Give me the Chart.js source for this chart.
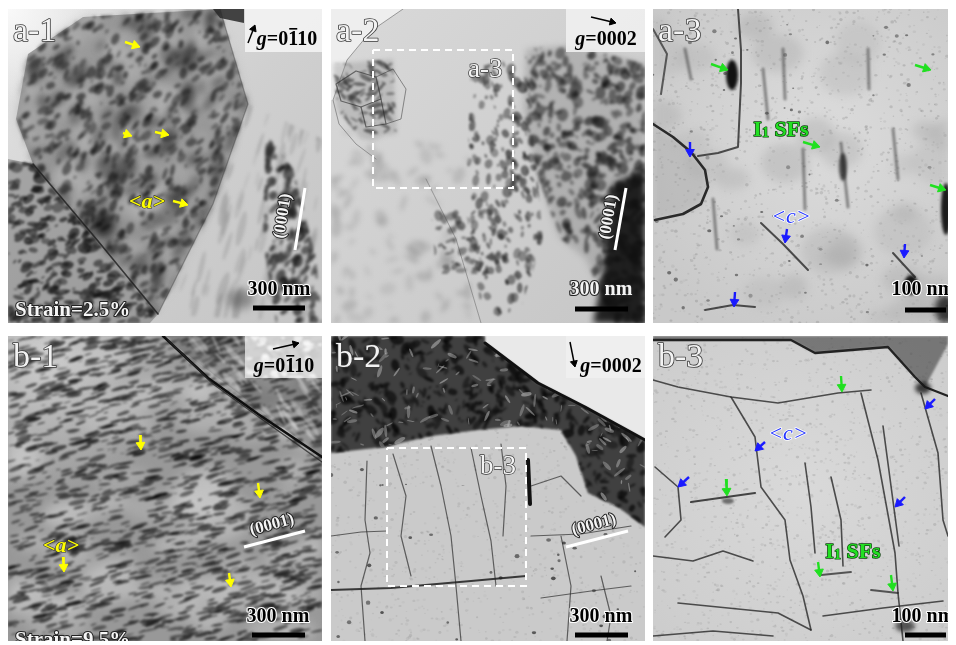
<!DOCTYPE html>
<html>
<head>
<meta charset="utf-8">
<script src="https://cdn.jsdelivr.net/npm/chart.js@4.4.0/dist/chart.umd.min.js"></script>
<style>
html, body { margin: 0; padding: 0; background: #fff; }
body { width: 956px; height: 645px; position: relative; overflow: hidden; }
.panel { position: absolute; }
</style>
</head>
<body>
<div class="panel" style="left:8px;top:9px;width:314px;height:314px"><canvas id="c0"></canvas></div>
<div class="panel" style="left:331px;top:9px;width:314px;height:314px"><canvas id="c1"></canvas></div>
<div class="panel" style="left:653px;top:9px;width:295px;height:314px"><canvas id="c2"></canvas></div>
<div class="panel" style="left:8px;top:336px;width:314px;height:305px"><canvas id="c3"></canvas></div>
<div class="panel" style="left:331px;top:336px;width:314px;height:305px"><canvas id="c4"></canvas></div>
<div class="panel" style="left:653px;top:336px;width:295px;height:305px"><canvas id="c5"></canvas></div>
<script>
// panel order: a-1, a-2, a-3, b-1, b-2, b-3 (local pixel units, y down)
const panelIds = ['a-1', 'a-2', 'a-3', 'b-1', 'b-2', 'b-3'];
const W = [314, 314, 295, 314, 314, 295];
const H = [314, 314, 314, 305, 305, 305];

const gDigits = ['0110', '0002', null, '0110', '0002', null];
const gBar = [1, -1, null, 1, -1, null];
const gArrows = [[240, 34, 247, 16], [260, 8, 285, 14], null, [265, 13, 291, 7], [239, 6, 244, 31], null];
const gTextPos = [[279, 29], [275, 29], null, [276, 29], [280, 29], null];

const scaleText = ['300 nm', '300 nm', '100 nm', '300 nm', '300 nm', '100 nm'];
const scaleTextPos = [[271, 286], [270, 286], [270, 286], [270, 286], [270, 286], [270, 286]];
const scaleBars = [[245, 297, 299], [244, 297, 300], [252, 293, 301], [244, 297, 299], [244, 297, 299], [252, 293, 299]];

const strainText = ['Strain=2.5%', null, null, 'Strain=9.5%', null, null];
const strainPos = [[7, 307], null, null, [7, 310], null, null];

const planeLines = [[287, 241, 297, 179], [284, 241, 295, 179], null, [236, 211, 297, 195], [235, 211, 297, 195], null];
const planeLabel = [[275, 207, -81], [278, 208, -80], null, [264, 189, -15], [263, 189, -15], null];

const dashBoxes = [null, [42, 41, 182, 179], null, null, [56, 112, 195, 250], null];
const dashLabel = [null, ['a-3', 137, 68], null, null, ['b-3', 149, 138], null];

const a1Yellow = [[117, 33, 132, 38], [115, 124, 124, 127], [147, 123, 161, 126], [165, 192, 180, 196]];
const b1Yellow = [[132, 99, 133, 114], [250, 147, 252, 162], [221, 237, 223, 251], [55, 221, 56, 236]];
const a3Green = [[58, 55, 75, 61], [262, 56, 278, 61], [150, 133, 167, 138], [277, 176, 293, 181]];
const a3Blue = [[37, 133, 37, 148], [134, 220, 132, 234], [252, 235, 251, 249], [82, 283, 81, 298]];
const b3Green = [[188, 40, 189, 56], [73, 143, 74, 160], [165, 226, 167, 241], [238, 239, 240, 255]];
const b3Blue = [[112, 106, 102, 115], [36, 141, 25, 151], [282, 63, 272, 73], [252, 161, 242, 171]];

const tagA = [[139, 192], null, null, [53, 209], null, null];
const tagC = [null, null, [138, 207], null, null, [135, 97]];
const tagSF = [null, null, [128, 119], null, null, [200, 214]];

const SERIF = '"Liberation Serif", "DejaVu Serif", serif';

// ---------- drawing helpers ----------
function makeRand(seed) {
  let s = seed;
  return () => { s = (s * 16807) % 2147483647; return (s - 1) / 2147483646; };
}
function poly(ctx, pts) {
  ctx.beginPath();
  pts.forEach((p, i) => i ? ctx.lineTo(p[0], p[1]) : ctx.moveTo(p[0], p[1]));
  ctx.closePath();
}
function fillPoly(ctx, pts, color, blur) {
  ctx.save();
  if (blur) ctx.filter = 'blur(' + blur + 'px)';
  poly(ctx, pts); ctx.fillStyle = color; ctx.fill();
  ctx.restore();
}
function line(ctx, pts, color, w, blur) {
  ctx.save();
  if (blur) ctx.filter = 'blur(' + blur + 'px)';
  ctx.beginPath();
  pts.forEach((p, i) => i ? ctx.lineTo(p[0], p[1]) : ctx.moveTo(p[0], p[1]));
  ctx.strokeStyle = color; ctx.lineWidth = w; ctx.lineJoin = 'round'; ctx.lineCap = 'round';
  ctx.stroke();
  ctx.restore();
}
function blob(ctx, x, y, rx, ry, color, blur) {
  ctx.save();
  if (blur) ctx.filter = 'blur(' + blur + 'px)';
  ctx.beginPath(); ctx.ellipse(x, y, rx, ry, 0, 0, Math.PI * 2);
  ctx.fillStyle = color; ctx.fill();
  ctx.restore();
}
function radial(ctx, x, y, r, c0, c1, w, h) {
  const g = ctx.createRadialGradient(x, y, 0, x, y, r);
  g.addColorStop(0, c0); g.addColorStop(1, c1);
  ctx.fillStyle = g; ctx.fillRect(0, 0, w, h);
}
function linear(ctx, w, h, stops) {
  const g = ctx.createLinearGradient(0, 0, w, h);
  stops.forEach(s => g.addColorStop(s[0], s[1]));
  ctx.fillStyle = g; ctx.fillRect(0, 0, w, h);
}
// texture of little ellipses, rendered off-screen then blurred once
function speckle(ctx, pts, n, o) {
  const r = makeRand(o.seed || 7);
  const xs = pts.map(p => p[0]), ys = pts.map(p => p[1]);
  const x0 = Math.min(...xs), x1 = Math.max(...xs), y0 = Math.min(...ys), y1 = Math.max(...ys);
  const off = document.createElement('canvas');
  off.width = 320; off.height = 320;
  const oc = off.getContext('2d');
  poly(oc, pts); oc.clip();
  for (let k = 0; k < n; k++) {
    const x = x0 + r() * (x1 - x0), y = y0 + r() * (y1 - y0);
    const rx = o.rx[0] + r() * (o.rx[1] - o.rx[0]);
    const ry = Math.max(0.4, rx * (o.ratio[0] + r() * (o.ratio[1] - o.ratio[0])));
    const ang = ((o.ang || 0) + (r() - 0.5) * (o.jit || 0)) * Math.PI / 180;
    const g = Math.round(o.gray[0] + r() * (o.gray[1] - o.gray[0]));
    oc.fillStyle = 'rgba(' + g + ',' + g + ',' + g + ',' + o.alpha + ')';
    oc.beginPath(); oc.ellipse(x, y, rx, ry, ang, 0, Math.PI * 2); oc.fill();
  }
  ctx.save();
  if (o.blur) ctx.filter = 'blur(' + o.blur + 'px)';
  ctx.drawImage(off, 0, 0);
  ctx.restore();
}
function full(w, h) { return [[0, 0], [w, 0], [w, h], [0, h]]; }

// ---------- backgrounds (micrograph look) ----------
const painters = [
  function a1(ctx) {
    const w = 314, h = 314;
    linear(ctx, w, h, [[0, '#e4e4e4'], [0.5, '#d0d0d0'], [1, '#c4c4c4']]);
    radial(ctx, 0, 0, 95, 'rgba(250,250,250,0.95)', 'rgba(250,250,250,0)', w, h);
    const grain = [[20, 45], [75, 8], [212, 0], [240, 95], [205, 195], [150, 305], [25, 155], [8, 110]];
    fillPoly(ctx, grain, 'rgba(100,100,100,0.58)');
    speckle(ctx, grain, 260, { rx: [8, 20], ratio: [0.4, 0.9], ang: 0, jit: 180, gray: [150, 200], alpha: 0.35, blur: 4, seed: 10 });
    speckle(ctx, grain, 160, { rx: [6, 14], ratio: [0.3, 0.8], ang: -50, jit: 80, gray: [20, 60], alpha: 0.4, blur: 3, seed: 15 });
    speckle(ctx, grain, 900, { rx: [1.5, 7], ratio: [0.25, 0.7], ang: -50, jit: 60, gray: [5, 60], alpha: 0.55, blur: 1.4, seed: 11 });
    const low = [[0, 150], [25, 155], [150, 305], [142, 314], [0, 314]];
    fillPoly(ctx, low, 'rgba(100,100,100,0.45)');
    speckle(ctx, low, 500, { rx: [1.5, 7], ratio: [0.25, 0.8], ang: -20, jit: 70, gray: [5, 60], alpha: 0.6, blur: 1.3, seed: 12 });
    const right = [[150, 305], [240, 95], [314, 130], [314, 314]];
    speckle(ctx, right, 140, { rx: [6, 18], ratio: [0.1, 0.25], ang: -75, jit: 12, gray: [120, 165], alpha: 0.3, blur: 1.5, seed: 14 });
    const strip = [[258, 125], [285, 160], [308, 250], [314, 314], [268, 314], [255, 230]];
    speckle(ctx, strip, 200, { rx: [1.5, 7], ratio: [0.3, 0.9], ang: -60, jit: 50, gray: [5, 60], alpha: 0.65, blur: 1.4, seed: 13 });
    blob(ctx, 232, 290, 14, 10, 'rgba(70,70,70,0.5)', 4);
    blob(ctx, 95, 215, 12, 14, 'rgba(10,10,10,0.75)', 4);
    line(ctx, [[25, 155], [90, 232], [150, 305]], 'rgba(30,30,30,0.8)', 1.6);
    line(ctx, [[212, 0], [240, 95], [205, 195], [150, 305]], 'rgba(50,50,50,0.35)', 1.2);
    fillPoly(ctx, [[205, 0], [236, 0], [236, 14], [212, 9]], 'rgba(40,40,40,0.85)');
    ctx.fillStyle = 'rgba(244,244,244,0.88)'; ctx.fillRect(237, 0, 77, 43);
  },
  function a2(ctx) {
    const w = 314, h = 314;
    linear(ctx, w, h, [[0, '#d9d9d9'], [1, '#c6c6c6']]);
    fillPoly(ctx, [[0, 0], [72, 0], [40, 22], [16, 51], [2, 91], [0, 91]], '#eeeeee');
    line(ctx, [[72, 0], [40, 22], [16, 51], [2, 91], [8, 115], [25, 135], [45, 150]], 'rgba(60,60,60,0.45)', 1);
    const net = [[2, 55], [62, 50], [66, 125], [30, 130], [6, 100]];
    fillPoly(ctx, net, 'rgba(150,150,150,0.4)', 2);
    speckle(ctx, net, 90, { rx: [2, 8], ratio: [0.15, 0.4], ang: 10, jit: 120, gray: [30, 90], alpha: 0.6, blur: 0.8, seed: 21 });
    line(ctx, [[5, 75], [25, 62], [45, 68], [50, 90], [30, 98], [10, 92], [5, 75]], 'rgba(40,40,40,0.6)', 1.2, 0.4);
    line(ctx, [[30, 98], [35, 118], [55, 115], [50, 90]], 'rgba(40,40,40,0.6)', 1.2, 0.4);
    line(ctx, [[45, 68], [62, 60], [75, 80], [70, 110], [55, 115]], 'rgba(50,50,50,0.5)', 1, 0.4);
    const dark = [[195, 40], [240, 36], [314, 55], [314, 314], [282, 314], [255, 250], [228, 228], [205, 160], [192, 100]];
    fillPoly(ctx, dark, 'rgba(110,110,110,0.3)', 3);
    speckle(ctx, dark, 650, { rx: [1.5, 7], ratio: [0.3, 0.9], ang: 0, jit: 180, gray: [5, 70], alpha: 0.55, blur: 1.4, seed: 22 });
    const mid = [[140, 60], [195, 45], [212, 230], [185, 314], [150, 300], [135, 200]];
    speckle(ctx, mid, 260, { rx: [1.5, 6], ratio: [0.3, 0.9], ang: 80, jit: 60, gray: [15, 90], alpha: 0.55, blur: 1.3, seed: 23 });
    speckle(ctx, [[100, 200], [165, 200], [170, 265], [105, 265]], 70, { rx: [1.5, 6], ratio: [0.3, 0.8], ang: 0, jit: 180, gray: [30, 90], alpha: 0.55, blur: 1.2, seed: 24 });
    speckle(ctx, [[0, 120], [140, 140], [140, 314], [0, 314]], 90, { rx: [3, 10], ratio: [0.3, 0.8], ang: 0, jit: 180, gray: [120, 160], alpha: 0.3, blur: 2.5, seed: 25 });
    const vdark = [[282, 175], [314, 160], [314, 314], [262, 314], [272, 265]];
    fillPoly(ctx, vdark, 'rgba(15,15,15,0.9)', 3);
    line(ctx, [[95, 170], [125, 230], [150, 314]], 'rgba(70,70,70,0.4)', 1);
    ctx.fillStyle = 'rgba(240,240,240,0.88)'; ctx.fillRect(235, 0, 79, 43);
  },
  function a3(ctx) {
    const w = 295, h = 314;
    ctx.fillStyle = '#c9c9c9'; ctx.fillRect(0, 0, w, h);
    radial(ctx, 170, 130, 210, 'rgba(222,222,222,0.9)', 'rgba(222,222,222,0)', w, h);
    speckle(ctx, full(w, h), 1400, { rx: [0.6, 1.8], ratio: [0.6, 1], gray: [130, 185], alpha: 0.35, blur: 0.5, seed: 31 });
    speckle(ctx, full(w, h), 60, { rx: [1, 2.2], ratio: [0.6, 1], gray: [40, 90], alpha: 0.6, blur: 0.6, seed: 32 });
    speckle(ctx, full(w, h), 30, { rx: [12, 30], ratio: [0.5, 1], gray: [165, 185], alpha: 0.4, blur: 5, seed: 33 });
    fillPoly(ctx, [[0, 120], [20, 128], [38, 143], [52, 161], [55, 178], [48, 195], [30, 205], [0, 211]], 'rgba(150,150,150,0.3)', 3);
    line(ctx, [[0, 115], [20, 128], [38, 143], [52, 161], [55, 178], [48, 195], [30, 205], [2, 211]], '#2a2a2a', 2.6, 0.7);
    line(ctx, [[85, 0], [88, 41], [88, 74], [85, 138], [65, 144], [45, 147]], 'rgba(40,40,40,0.8)', 2, 0.7);
    line(ctx, [[0, 20], [14, 45], [8, 85]], 'rgba(40,40,40,0.7)', 2, 0.6);
    line(ctx, [[108, 214], [130, 235], [155, 261]], 'rgba(40,40,40,0.8)', 2, 0.5);
    line(ctx, [[240, 244], [250, 255], [262, 268]], 'rgba(40,40,40,0.8)', 2, 0.5);
    line(ctx, [[52, 301], [80, 296], [102, 298]], 'rgba(40,40,40,0.8)', 2, 0.5);
    const sf = [[[32, 40], [38, 70]], [[188, 134], [195, 198]], [[150, 140], [152, 200]], [[110, 60], [115, 110]], [[215, 40], [216, 80]], [[240, 120], [245, 170]], [[60, 190], [64, 240]], [[130, 40], [132, 90]]];
    sf.forEach(s => line(ctx, s, 'rgba(50,50,50,0.5)', 3, 1.2));
    blob(ctx, 79, 66, 6, 15, '#121212', 1.4);
    blob(ctx, 258, 276, 7, 10, '#151515', 1.8);
    blob(ctx, 293, 200, 5, 26, '#1c1c1c', 1.8);
    blob(ctx, 190, 158, 4, 14, 'rgba(30,30,30,0.75)', 1.4);
    blob(ctx, 292, 300, 10, 14, 'rgba(20,20,20,0.8)', 3);
  },
  function b1(ctx) {
    const w = 314, h = 305;
    ctx.fillStyle = '#989898'; ctx.fillRect(0, 0, w, h);
    radial(ctx, 40, 20, 140, 'rgba(215,215,215,0.85)', 'rgba(215,215,215,0)', w, h);
    speckle(ctx, full(w, h), 60, { rx: [14, 34], ratio: [0.35, 0.8], ang: -10, jit: 30, gray: [180, 215], alpha: 0.5, blur: 6, seed: 41 });
    speckle(ctx, full(w, h), 1800, { rx: [2, 9], ratio: [0.12, 0.3], ang: -14, jit: 16, gray: [0, 50], alpha: 0.62, blur: 0.9, seed: 42 });
    const wedge = [[155, 0], [314, 0], [314, 121]];
    fillPoly(ctx, wedge, 'rgba(70,70,70,0.3)');
    speckle(ctx, wedge, 90, { rx: [4, 14], ratio: [0.1, 0.3], ang: 55, jit: 20, gray: [200, 240], alpha: 0.45, blur: 1, seed: 43 });
    line(ctx, [[155, 0], [200, 42], [250, 78], [314, 121]], '#0e0e0e', 2.6, 0.4);
    line(ctx, [[160, 4], [205, 48], [255, 84], [314, 126]], 'rgba(40,40,40,0.8)', 1.4, 0.4);
    ctx.fillStyle = 'rgba(225,225,225,0.85)'; ctx.fillRect(237, 0, 77, 42);
    speckle(ctx, [[237, 0], [314, 0], [314, 42], [237, 42]], 40, { rx: [2, 5], ratio: [0.4, 1], gray: [245, 255], alpha: 0.7, blur: 0.8, seed: 44 });
  },
  function b2(ctx) {
    const w = 314, h = 305;
    ctx.fillStyle = '#cacaca'; ctx.fillRect(0, 0, w, h);
    speckle(ctx, full(w, h), 1400, { rx: [0.6, 1.8], ratio: [0.6, 1], gray: [140, 190], alpha: 0.3, blur: 0.5, seed: 51 });
    fillPoly(ctx, [[154, 0], [314, 0], [314, 104], [254, 71], [207, 47], [154, 7]], '#e9e9e9');
    const dark = [[0, 0], [154, 0], [154, 7], [207, 47], [254, 71], [314, 104], [314, 191], [287, 171], [257, 157], [245, 120], [230, 94], [190, 90], [147, 94], [100, 100], [52, 111], [0, 117]];
    fillPoly(ctx, dark, '#404040', 1);
    speckle(ctx, dark, 800, { rx: [1.5, 7], ratio: [0.2, 0.7], ang: 0, jit: 180, gray: [0, 30], alpha: 0.7, blur: 0.8, seed: 52 });
    speckle(ctx, dark, 260, { rx: [2, 7], ratio: [0.12, 0.4], ang: 0, jit: 180, gray: [140, 210], alpha: 0.5, blur: 0.7, seed: 53 });
    line(ctx, [[154, 7], [207, 47], [254, 71], [314, 104]], '#111', 3, 0.4);
    const dis = [
      [[36, 125], [34, 184], [39, 217], [30, 250], [34, 305]],
      [[62, 118], [75, 160], [70, 200], [80, 240]],
      [[100, 110], [110, 150], [120, 200], [125, 250], [130, 305]],
      [[140, 112], [150, 160], [160, 205], [165, 250]],
      [[170, 108], [175, 150], [172, 200]],
      [[0, 200], [30, 196], [56, 195]],
      [[200, 200], [250, 198], [300, 190]],
      [[210, 262], [260, 255], [300, 250]],
      [[200, 150], [230, 140], [250, 160]],
      [[230, 200], [240, 250], [236, 305]],
      [[270, 240], [280, 280], [276, 305]]
    ];
    dis.forEach(d => line(ctx, d, 'rgba(45,45,45,0.7)', 1.2, 0.3));
    line(ctx, [[0, 254], [60, 252], [140, 245], [195, 240]], 'rgba(30,30,30,0.85)', 1.8, 0.3);
    line(ctx, [[197, 124], [199, 168]], '#111', 4, 0.6);
    speckle(ctx, [[0, 120], [314, 190], [314, 305], [0, 305]], 40, { rx: [1, 2.5], ratio: [0.6, 1], gray: [30, 80], alpha: 0.7, blur: 0.5, seed: 54 });
    ctx.fillStyle = 'rgba(240,240,240,0.85)'; ctx.fillRect(235, 0, 79, 42);
  },
  function b3(ctx) {
    const w = 295, h = 305;
    ctx.fillStyle = '#cdcdcd'; ctx.fillRect(0, 0, w, h);
    radial(ctx, 150, 150, 200, 'rgba(220,220,220,0.8)', 'rgba(220,220,220,0)', w, h);
    speckle(ctx, full(w, h), 1600, { rx: [0.6, 1.8], ratio: [0.5, 1], gray: [140, 190], alpha: 0.33, blur: 0.5, seed: 61 });
    fillPoly(ctx, [[0, 0], [295, 0], [295, 8], [272, 51], [262, 41], [235, 11], [162, 17], [138, 4], [0, 4]], 'rgba(60,60,60,0.6)', 1);
    const lw = 'rgba(40,40,40,0.8)';
    line(ctx, [[0, 4], [138, 4], [162, 17], [235, 11], [262, 41], [272, 51], [295, 60]], '#222', 2.4, 0.6);
    const dl = [
      [[0, 44], [25, 51], [78, 61], [125, 67], [185, 57], [218, 54]],
      [[78, 61], [102, 101], [108, 151], [132, 184], [137, 224], [150, 260], [158, 294]],
      [[208, 57], [225, 124], [242, 217], [245, 257], [250, 305]],
      [[268, 57], [285, 117], [290, 184], [295, 200]],
      [[2, 131], [25, 151], [28, 184], [12, 201]],
      [[152, 127], [158, 171], [162, 217]],
      [[178, 141], [188, 184], [190, 230]],
      [[230, 90], [238, 150], [246, 210]],
      [[25, 267], [125, 277], [158, 294]],
      [[0, 300], [60, 295], [120, 300]],
      [[0, 220], [40, 225], [70, 215], [100, 225]],
      [[170, 280], [230, 272], [290, 265]]
    ];
    dl.forEach(d => line(ctx, d, lw, 1.6, 0.4));
    line(ctx, [[38, 166], [102, 157]], 'rgba(30,30,30,0.8)', 2.2, 0.5);
    line(ctx, [[168, 239], [198, 236]], 'rgba(30,30,30,0.7)', 1.8, 0.5);
    line(ctx, [[218, 254], [245, 257]], 'rgba(30,30,30,0.7)', 1.8, 0.5);
    blob(ctx, 270, 52, 8, 6, 'rgba(20,20,20,0.8)', 2);
    blob(ctx, 252, 290, 10, 6, 'rgba(30,30,30,0.7)', 2);
    blob(ctx, 75, 165, 6, 3, 'rgba(40,40,40,0.6)', 1);
  }
];

// ---------- text helpers ----------
function outlined(ctx, text, x, y, font, fill, stroke, lw, align) {
  ctx.font = font; ctx.textAlign = align || 'left'; ctx.textBaseline = 'alphabetic';
  ctx.lineJoin = 'round';
  if (stroke) { ctx.strokeStyle = stroke; ctx.lineWidth = lw; ctx.strokeText(text, x, y); }
  ctx.fillStyle = fill; ctx.fillText(text, x, y);
}
function drawG(ctx, cx, cy, digits, bar) {
  const fi = 'italic bold 20px ' + SERIF, fb = 'bold 20px ' + SERIF;
  ctx.font = fi; const wg = ctx.measureText('g').width;
  ctx.font = fb; const we = ctx.measureText('=').width, wd = ctx.measureText(digits).width;
  let x = cx - (wg + we + wd) / 2;
  const y = cy + 7;
  ctx.textAlign = 'left'; ctx.textBaseline = 'alphabetic'; ctx.fillStyle = '#000';
  ctx.font = fi; ctx.fillText('g', x, y); x += wg;
  ctx.font = fb; ctx.fillText('=', x, y); x += we;
  ctx.fillText(digits, x, y);
  if (bar >= 0) {
    const bx = x + ctx.measureText(digits.slice(0, bar)).width;
    const bw = ctx.measureText(digits[bar]).width;
    ctx.fillRect(bx + 1, y - 17, bw - 2, 1.6);
  }
}

const temPlugin = {
  id: 'tem',
  beforeDraw(chart, args, opts) {
    const ctx = chart.ctx, a = chart.chartArea, i = opts.i;
    ctx.save();
    ctx.beginPath(); ctx.rect(a.left, a.top, a.width, a.height); ctx.clip();
    ctx.translate(a.left, a.top);
    ctx.scale(a.width / W[i], a.height / H[i]);
    painters[i](ctx);
    ctx.restore();
  },
  afterDatasetsDraw(chart, args, opts) {
    const ctx = chart.ctx, i = opts.i;
    const px = v => chart.scales.x.getPixelForValue(v);
    const py = v => chart.scales.y.getPixelForValue(v);
    ctx.save();
    outlined(ctx, panelIds[i], px(5), py(i < 3 ? 32 : 31), '34px ' + SERIF, '#f3f3f3', '#3a3a3a', 1.6);
    if (gDigits[i]) drawG(ctx, px(gTextPos[i][0]), py(gTextPos[i][1]), gDigits[i], gBar[i]);
    const sFill = i === 1 ? '#f4f4f4' : '#000', sStroke = i === 1 ? '#222' : '#fff';
    outlined(ctx, scaleText[i], px(scaleTextPos[i][0]), py(scaleTextPos[i][1]), 'bold 20px ' + SERIF, sFill, sStroke, 2.2, 'center');
    if (strainText[i]) outlined(ctx, strainText[i], px(strainPos[i][0]), py(strainPos[i][1]), 'bold 21px ' + SERIF, '#f6f6f6', '#222', 2);
    if (planeLabel[i]) {
      const [lx, ly, rot] = planeLabel[i];
      ctx.save(); ctx.translate(px(lx), py(ly)); ctx.rotate(rot * Math.PI / 180);
      ctx.textBaseline = 'middle';
      ctx.font = 'bold 17px ' + SERIF; ctx.textAlign = 'center';
      ctx.strokeStyle = '#222'; ctx.lineWidth = 2; ctx.lineJoin = 'round';
      ctx.strokeText('(0001)', 0, 0); ctx.fillStyle = '#f4f4f4'; ctx.fillText('(0001)', 0, 0);
      ctx.restore();
    }
    if (dashLabel[i]) outlined(ctx, dashLabel[i][0], px(dashLabel[i][1]), py(dashLabel[i][2]), '27px ' + SERIF, '#f3f3f3', '#3a3a3a', 1.4);
    if (tagA[i]) outlined(ctx, '<a>', px(tagA[i][0]), py(tagA[i][1] + 7), 'italic bold 22px ' + SERIF, '#ffff00', '#333', 1.2, 'center');
    if (tagC[i]) outlined(ctx, '<c>', px(tagC[i][0]), py(tagC[i][1] + 7), 'italic 22px ' + SERIF, '#2434ff', '#ffffff', 1.6, 'center');
    if (tagSF[i]) {
      const [cx, cy] = tagSF[i];
      ctx.font = 'bold 22px ' + SERIF;
      const w1 = ctx.measureText('I').width, w2 = ctx.measureText(' SFs').width;
      ctx.font = 'bold 14px ' + SERIF; const ws = ctx.measureText('1').width;
      let x = px(cx) - (w1 + ws + w2) / 2; const y = py(cy + 8);
      outlined(ctx, 'I', x, y, 'bold 22px ' + SERIF, '#22e022', '#0b3d0b', 1.4); x += w1;
      outlined(ctx, '1', x, y + 1, 'bold 14px ' + SERIF, '#22e022', '#0b3d0b', 1.2); x += ws;
      outlined(ctx, ' SFs', x, y, 'bold 22px ' + SERIF, '#22e022', '#0b3d0b', 1.4);
    }
    ctx.restore();
  }
};

// ---------- datasets ----------
function arrowSet(a, color, width, head) {
  const [x0, y0, x1, y1] = a;
  const len = Math.hypot(x1 - x0, y1 - y0) || 1;
  const ux = (x1 - x0) / len, uy = (y1 - y0) / len;
  const rot = Math.atan2(ux, -uy) * 180 / Math.PI;
  return {
    data: [{ x: x0, y: y0 }, { x: x1 - ux * head, y: y1 - uy * head }],
    showLine: true, borderColor: color, backgroundColor: color, borderWidth: width,
    pointRadius: [0, head], pointHoverRadius: 0, pointStyle: 'triangle',
    pointRotation: rot, pointBorderWidth: 1, pointBorderColor: color
  };
}
function segSet(pts, color, width, dash) {
  return {
    data: pts.map(p => ({ x: p[0], y: p[1] })), showLine: true,
    borderColor: color, borderWidth: width, borderDash: dash || [],
    pointRadius: 0, pointHoverRadius: 0, borderCapStyle: 'butt'
  };
}

const arrowGroups = [
  [[a1Yellow, '#ffff00']], [], [[a3Green, '#20e020'], [a3Blue, '#1a1aff']],
  [[b1Yellow, '#ffff00']], [], [[b3Green, '#20e020'], [b3Blue, '#1a1aff']]
];

for (let i = 0; i < 6; i++) {
  const ds = [];
  if (planeLines[i]) {
    const p = planeLines[i];
    ds.push(segSet([[p[0], p[1]], [p[2], p[3]]], '#ffffff', 3));
  }
  if (dashBoxes[i]) {
    const [x0, y0, x1, y1] = dashBoxes[i];
    ds.push(segSet([[x0, y0], [x1, y0], [x1, y1], [x0, y1], [x0, y0]], '#ffffff', 2, [7, 5]));
  }
  const sb = scaleBars[i];
  ds.push(segSet([[sb[0], sb[2]], [sb[1], sb[2]]], '#000000', 5));
  if (gArrows[i]) ds.push(arrowSet(gArrows[i], '#000000', 1.5, 4));
  arrowGroups[i].forEach(([arr, col]) => arr.forEach(a => ds.push(arrowSet(a, col, 2.4, 5))));

  new Chart(document.getElementById('c' + i), {
    type: 'scatter',
    data: { datasets: ds },
    options: {
      responsive: true, maintainAspectRatio: false, animation: false,
      layout: { padding: 0, autoPadding: false },
      scales: {
        x: { type: 'linear', min: 0, max: W[i], display: false },
        y: { type: 'linear', min: 0, max: H[i], reverse: true, display: false }
      },
      plugins: { legend: { display: false }, tooltip: { enabled: false }, tem: { i: i } },
      events: []
    },
    plugins: [temPlugin]
  });
}
</script>
</body>
</html>
